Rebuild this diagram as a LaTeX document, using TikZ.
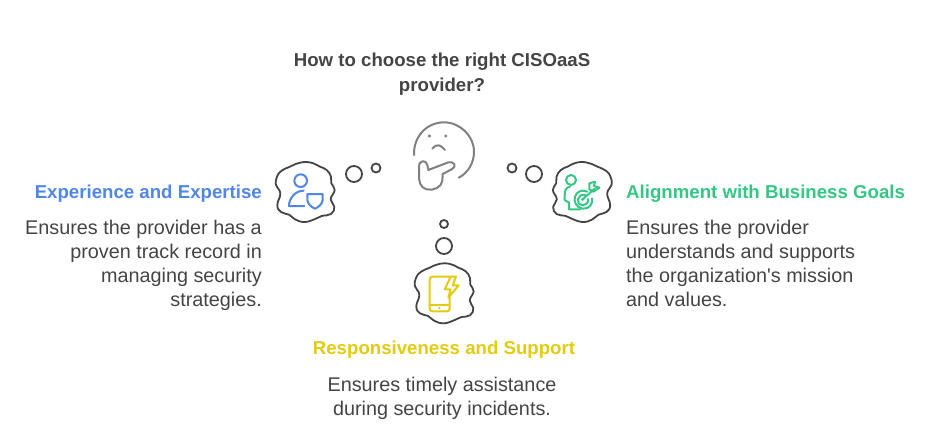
\documentclass[tikz,border=0pt]{standalone}
\usepackage{fontspec}
\setmainfont{Liberation Sans}
\newfontfamily\plainf{Liberation Sans}
\definecolor{ink}{HTML}{444444}
\definecolor{blu}{HTML}{4F86E8}
\definecolor{grn}{HTML}{34C784}
\definecolor{yel}{HTML}{E3CB12}
\definecolor{gry}{HTML}{808080}
\tikzset{
 head/.style={font=\fontsize{18.65}{25}\selectfont\bfseries,inner sep=0pt},
 body/.style={font=\fontsize{19.8}{24}\selectfont,text=ink,inner sep=0pt},
 cloudline/.style={draw=ink,line width=1.8pt,line join=round},
 bubble/.style={circle,draw=ink,line width=1.8pt,inner sep=0pt},
 ico/.style={line width=2pt,line cap=round,line join=round},
}
\newcommand{\cloudpath}{plot[smooth cycle,tension=0.8] coordinates {(50,62)(75,50)(92,42)(122,36)(150,42)(165,50)(185,60)(198,80)(199,100)(209,120)(197,148)(208,170)(198,192)(170,198)(148,208)(118,216)(90,208)(72,194)(48,186)(37,165)(46,130)(33,105)(36,80)}}
\begin{document}
\begin{tikzpicture}[x=1pt,y=-1pt]
\useasboundingbox (0,0) rectangle (936,432);
\node[head,text=ink,align=center,anchor=north] (title) at (442,53) {How to choose the right CISOaaS\\provider?};
% thinker
\begin{scope}[shift={(400,110)},scale=1/3,draw=gry,line width=2pt,line cap=round,line join=round]
\draw (42,135) .. controls (40,80) and (80,37) .. (132,37) .. controls (180,37) and (222,78) .. (222,125) .. controls (222,158) and (205,188) .. (176,203);
\fill[gry] (88,78) circle (5) (137,78) circle (5);
\draw (97,116) .. controls (110,100) and (122,104) .. (135,120);
\draw (85,180) -- (145,157) .. controls (162,152) and (172,170) .. (155,178) -- (128,192) -- (127,212) .. controls (125,232) and (100,243) .. (80,238) .. controls (60,233) and (57,215) .. (57,195) -- (57,170) .. controls (57,150) and (78,148) .. (82,165) -- (85,180);
\end{scope}
% left
\node[bubble,minimum size=16pt] (b1) at (354,174) {};
\node[bubble,minimum size=9pt] (b2) at (376,168) {};
\begin{scope}[shift={(265,150)},scale=1/3]
\draw[cloudline] \cloudpath;
\begin{scope}[draw=blu,ico]
\draw (107,92) circle (19);
\draw (118,168) -- (72,168) .. controls (72,145) and (90,122) .. (116,122);
\draw (127,132) -- (173,132) -- (173,150) .. controls (172,162) and (160,172) .. (150,176) .. controls (140,172) and (128,162) .. (127,150) -- cycle;
\end{scope}
\end{scope}
% right
\node[bubble,minimum size=9pt] (b3) at (512,168) {};
\node[bubble,minimum size=16pt] (b4) at (534,174) {};
\begin{scope}[shift={(622.5,150)},xscale=-1/3,yscale=1/3]
\draw[cloudline] \cloudpath;
\end{scope}
\begin{scope}[shift={(500,150)},scale=1/3]
\begin{scope}[draw=grn,ico]
\draw (213,90) circle (15);
\draw (210,110) .. controls (198,112) and (194,122) .. (194,135) -- (194,150) -- (207,158) -- (207,178) -- (240,178);
\draw (262,125) .. controls (225,108) and (205,165) .. (248,176) .. controls (268,178) and (280,160) .. (276,145);
\draw (256,135) .. controls (232,128) and (224,165) .. (248,165) .. controls (260,165) and (266,155) .. (264,147);
\fill[grn] (248,148) circle (5);
\draw (248,148) -- (285,115);
\draw (268,100) -- (285,95) -- (282,108) -- (298,113) -- (280,125) -- (268,118) -- cycle;
\end{scope}
\end{scope}
% bottom
\node[bubble,minimum size=8pt] (b5) at (444,224) {};
\node[bubble,minimum size=16pt] (b6) at (444,246) {};
\begin{scope}[shift={(404,251.3)},scale=1/3]
\draw[cloudline] \cloudpath;
\end{scope}
\begin{scope}[shift={(400,210)},scale=1/3]
\begin{scope}[draw=yel,ico]
\draw (150,200) -- (98,200) .. controls (92,200) and (89,203) .. (89,209) -- (89,295) .. controls (89,301) and (92,304) .. (98,304) -- (140,304) .. controls (146,304) and (149,301) .. (149,295) -- (149,262);
\draw (89,284) -- (149,284);
\fill[yel] (118,294) circle (4);
\draw (152,200) -- (134,238) -- (152,238) -- (145,263) -- (176,226) -- (158,226) -- (168,200) -- cycle;
\end{scope}
\end{scope}
% texts
\node[head,text=blu,anchor=base east] (t1) at (262,198) {Experience and Expertise};
\node[body,align=right,anchor=north east] (d1) at (262,220) {Ensures the provider has a\\proven track record in\\managing security\\strategies.};
\node[head,text=grn,anchor=base west] (t2) at (626,198) {Alignment with Business Goals};
\node[body,align=left,anchor=north west] (d2) at (626,220) {Ensures the provider\\understands and supports\\the organization{\plainf\symbol{39}}s mission\\and values.};
\node[head,text=yel,anchor=base] (t3) at (444,354) {Responsiveness and Support};
\node[body,align=center,anchor=north] (d3) at (442,377) {Ensures timely assistance\\during security incidents.};
\end{tikzpicture}
\end{document}
